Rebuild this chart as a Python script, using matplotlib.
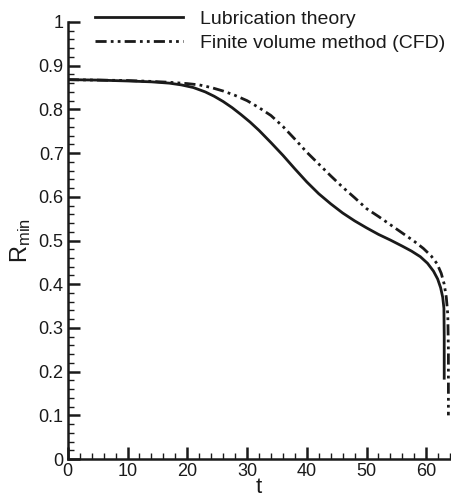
import matplotlib
matplotlib.use('Agg')
import matplotlib.pyplot as plt
from matplotlib.ticker import MultipleLocator, FormatStrFormatter

plt.rcParams['font.family'] = ['Liberation Sans', 'DejaVu Sans']
plt.rcParams['mathtext.fontset'] = 'custom'
plt.rcParams['mathtext.rm'] = 'Liberation Sans'

# Lubrication theory (solid)
t_lub = [0, 5, 10, 14, 17, 19, 21, 23, 24.5, 26, 27.5, 29, 30.5, 32, 34, 36,
         38, 40, 42, 44, 46, 48, 50, 52, 54, 56, 57.5, 59, 60.2, 61.2, 61.9,
         62.4, 62.75, 62.95, 63.0, 63.0]
r_lub = [0.868, 0.867, 0.865, 0.863, 0.860, 0.856, 0.850, 0.840, 0.830, 0.818,
         0.804, 0.788, 0.771, 0.752, 0.724, 0.695, 0.664, 0.634, 0.607, 0.584,
         0.563, 0.545, 0.529, 0.514, 0.501, 0.487, 0.476, 0.463, 0.448, 0.430,
         0.412, 0.392, 0.370, 0.345, 0.28, 0.185]

# Finite volume method (dash-dot-dot)
t_cfd = [0, 5, 10, 14, 17, 20, 22, 24, 26, 28, 30, 32, 34, 36, 38, 40, 42, 44,
         46, 48, 50, 52, 54, 56, 58, 59.5, 60.8, 61.8, 62.5, 63.0, 63.35, 63.6,
         63.7, 63.7]
r_cfd = [0.868, 0.867, 0.866, 0.864, 0.862, 0.859, 0.856, 0.850, 0.842, 0.832,
         0.820, 0.804, 0.786, 0.761, 0.732, 0.702, 0.675, 0.648, 0.622, 0.598,
         0.573, 0.555, 0.536, 0.517, 0.498, 0.482, 0.465, 0.447, 0.425, 0.400,
         0.370, 0.33, 0.25, 0.10]

fig = plt.figure(figsize=(4.52, 4.99), dpi=100)
ax = fig.add_axes([0.150, 0.080, 0.846, 0.876])

ax.plot(t_lub, r_lub, color='#1a1a1a', lw=2.0, label='Lubrication theory')
ax.plot(t_cfd, r_cfd, color='#1a1a1a', lw=2.0,
        linestyle=(0, (4, 1.5, 1, 1.5, 1, 1.5)),
        label='Finite volume method (CFD)')

ax.set_xlim(0, 64)
ax.set_ylim(0, 1)
ax.xaxis.set_major_locator(MultipleLocator(10))
ax.xaxis.set_minor_locator(MultipleLocator(2))
ax.yaxis.set_major_locator(MultipleLocator(0.1))
ax.yaxis.set_minor_locator(MultipleLocator(0.02))
ax.yaxis.set_major_formatter(FormatStrFormatter('%g'))
ax.xaxis.set_major_formatter(FormatStrFormatter('%g'))

for s in ['top', 'right']:
    ax.spines[s].set_visible(False)
for s in ['left', 'bottom']:
    ax.spines[s].set_linewidth(1.8)
    ax.spines[s].set_color('#1a1a1a')

ax.tick_params(which='major', direction='in', length=8.6, width=1.8,
               labelsize=13, pad=3, color='#1a1a1a', labelcolor='#1a1a1a')
ax.tick_params(which='minor', direction='in', length=4.3, width=1.0,
               color='#1a1a1a')

ax.set_xlabel('t', fontsize=16, labelpad=-2, color='#1a1a1a')
ax.set_ylabel(r'$\mathregular{R_{min}}$', fontsize=17, labelpad=4, color='#1a1a1a')

leg = ax.legend(loc='upper left', bbox_to_anchor=(95 / 452, 1.0 - 10 / 499),
                bbox_transform=fig.transFigure, frameon=False, fontsize=14,
                handlelength=4.5, handletextpad=0.9, labelspacing=0.35,
                borderpad=0, borderaxespad=0)
for txt in leg.get_texts():
    txt.set_color('#1a1a1a')

fig.savefig('out.png', dpi=100)
